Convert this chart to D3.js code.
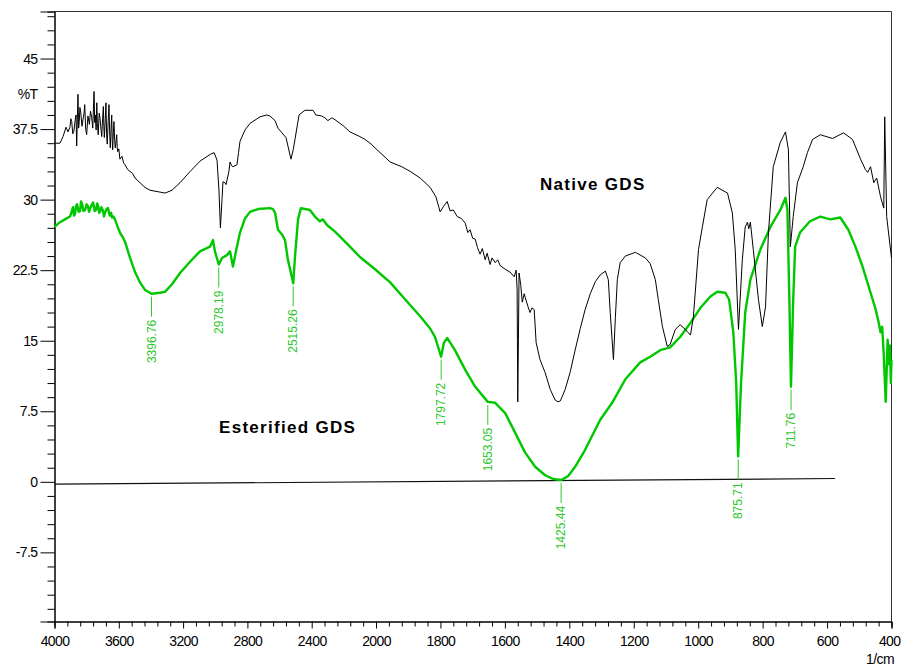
<!DOCTYPE html>
<html><head><meta charset="utf-8">
<script src="https://cdn.jsdelivr.net/npm/d3@7"></script>
<style>
html,body{margin:0;padding:0;background:#fff;}
svg{display:block;font-family:"Liberation Sans",Arial,Helvetica,sans-serif;}
</style></head><body>
<svg id="c" width="901" height="666"></svg>
<script>
// ---- data ----
const nativeWn = [4000,3966,3947,3928,3916,3904,3898,3893,3886,3879,3872,3866,3862,3858,3854,3850,3846,3842,3837,3829,3821,3816,3812,3806,3800,3792,3783,3776,3769,3762,3754,3750,3746,3741,3737,3733,3728,3722,3717,3711,3706,3701,3696,3693,3690,3685,3680,3676,3672,3666,3661,3657,3653,3648,3644,3641,3638,3634,3630,3626,3622,3617,3613,3610,3607,3600,3593,3580,3570,3561,3545,3530,3515,3499,3468,3437,3406,3375,3344,3312,3269,3219,3156,3094,3032,3007,2989,2977,2968,2958,2952,2940,2933,2915,2908,2898,2890,2865,2855,2846,2815,2784,2722,2680,2660,2628,2610,2585,2560,2545,2529,2515,2504,2479,2442,2392,2374,2340,2318,2299,2275,2255,2200,2162,2100,2068,2030,2006,1956,1920,1894,1863,1832,1814,1801,1790,1779,1770,1760,1748,1735,1723,1715,1708,1700,1692,1685,1677,1670,1661,1655,1646,1640,1630,1622,1615,1599,1584,1571,1565,1562,1560,1558,1556,1551,1546,1540,1537,1528,1522,1516,1509,1503,1491,1475,1459,1444,1435,1428,1413,1397,1382,1366,1351,1335,1319,1304,1288,1279,1273,1263,1257,1251,1242,1226,1195,1164,1149,1133,1124,1111,1096,1087,1071,1056,1040,1024,1015,999,987,972,941,909,894,885,875,863,854,847,843,838,829,813,801,791,782,767,745,729,720,714,705,692,674,661,645,621,583,549,521,496,481,474,465,455,446,434,424,421,415,400];
const nativeT = [36.0,36.0,36.7,37.7,37.2,37.7,38.6,38.3,37.0,37.3,38.4,39.0,35.7,38.5,41.2,37.6,38.3,39.8,39.3,37.8,38.7,39.2,40.1,37.5,36.9,38.9,38.0,39.4,38.8,37.6,41.5,38.2,39.0,37.4,40.3,38.1,36.9,39.2,38.7,37.5,36.7,38.6,39.9,37.8,36.6,38.2,40.3,37.0,35.9,38.4,40.1,37.2,35.5,37.6,39.0,36.3,35.3,37.1,38.3,36.4,35.5,36.2,36.9,35.6,35.1,35.4,34.3,34.6,33.9,33.7,33.2,33.0,32.8,32.3,31.8,31.3,31.0,30.9,30.8,30.7,31.0,31.8,33.0,34.1,34.8,35.0,34.2,31.0,27.0,30.0,31.9,31.8,31.6,33.0,34.0,33.6,33.5,33.7,35.0,36.2,37.4,38.1,38.8,39.0,38.9,38.4,37.6,37.1,36.6,35.5,34.3,35.3,36.4,39.0,39.5,39.5,39.0,38.9,38.7,38.4,38.7,38.5,37.8,37.2,36.7,36.4,35.9,35.5,34.0,33.5,33.0,32.3,31.3,30.3,28.7,29.3,29.8,28.8,28.9,28.2,28.0,27.5,26.5,26.8,25.9,25.8,24.9,24.2,24.8,23.6,24.3,23.1,23.8,23.3,23.6,23.0,22.6,22.3,21.8,22.5,20.5,8.5,15.0,22.2,21.0,19.1,20.0,19.6,18.6,18.0,18.5,18.3,14.8,13.0,11.6,9.8,8.7,8.5,8.6,9.8,11.7,14.0,16.3,18.3,20.0,21.3,22.0,22.4,21.5,18.0,13.0,17.5,21.5,23.3,24.0,24.4,23.8,23.2,21.5,19.4,16.5,14.4,14.6,16.2,16.7,16.2,15.6,17.5,24.7,27.1,30.0,31.3,30.7,28.6,24.7,16.2,23.6,27.1,27.6,26.9,27.6,24.7,19.4,16.5,18.6,26.5,33.5,36.1,37.2,35.3,25.0,28.2,31.8,33.5,35.0,36.4,36.9,36.5,37.1,36.4,34.3,33.2,32.9,33.5,31.8,32.3,30.3,29.1,38.8,28.2,23.8];

const esterWn = [4000,3966,3935,3904,3895,3885,3878,3872,3866,3860,3850,3841,3835,3829,3820,3810,3800,3792,3785,3779,3770,3760,3750,3742,3735,3729,3722,3717,3708,3698,3692,3686,3676,3667,3660,3655,3648,3642,3633,3624,3615,3605,3590,3575,3561,3530,3499,3468,3437,3406,3397,3344,3313,3269,3219,3157,3095,3033,3014,3002,2978,2958,2927,2908,2890,2871,2846,2815,2784,2734,2660,2641,2628,2610,2585,2566,2548,2515,2504,2485,2467,2411,2380,2349,2330,2305,2255,2162,2100,2006,1956,1910,1863,1832,1817,1798,1789,1779,1755,1723,1692,1653,1630,1599,1568,1537,1506,1475,1450,1425,1404,1382,1351,1304,1267,1226,1180,1149,1118,1087,1056,1024,993,962,941,916,904,891,882,876,867,854,838,807,776,745,729,723,717,712,705,699,684,653,621,590,559,534,512,490,465,449,440,434,429,424,418,412,408,405,402,400];
const esterT = [27.1,27.6,27.9,28.2,28.6,29.2,28.3,28.5,29.3,29.5,28.7,28.8,29.8,29.6,28.8,28.9,29.5,29.3,28.7,29.0,29.4,29.7,28.8,28.9,29.6,29.4,28.6,28.7,29.2,28.8,28.2,28.6,29.0,29.1,28.5,28.3,28.6,28.1,28.2,27.9,27.5,27.0,26.4,26.0,25.5,23.8,22.3,21.2,20.4,20.1,20.0,20.1,20.2,21.0,22.2,23.4,24.5,25.0,25.7,24.5,23.1,23.8,24.1,24.5,22.9,24.5,26.5,28.0,28.7,29.0,29.1,29.0,28.6,26.8,26.3,25.7,23.6,21.1,23.9,27.9,29.1,28.9,28.2,27.7,27.9,27.3,26.6,25.0,23.9,22.6,21.2,19.4,17.6,16.3,15.4,13.3,14.8,15.3,14.0,11.9,10.1,8.5,8.4,7.3,5.2,3.1,1.6,0.7,0.3,0.2,0.6,1.6,3.4,6.6,8.4,10.9,12.7,13.3,14.0,14.3,15.4,16.9,18.5,19.7,20.2,20.1,19.4,15.9,10.5,2.7,10.5,18.0,21.5,24.7,27.1,28.9,30.2,28.9,19.4,10.1,19.4,25.0,26.5,27.7,28.2,27.9,28.1,26.8,25.0,22.9,20.1,18.3,17.0,15.9,16.5,13.5,8.5,15.1,12.5,14.5,10.5,13.0,10.1];

const baseWn = [4000, 575];
const baseT = [-0.25, 0.35];

const peakWn = [3396.76, 2978.19, 2515.26, 1797.72, 1653.05, 1425.44, 875.71, 711.76];
const peakT  = [20.0, 23.1, 21.1, 13.3, 8.5, 0.2, 2.7, 10.1];

const xMajor = [4000,3600,3200,2800,2400,2000,1800,1600,1400,1200,1000,800,600,400];
const yMajor = [45,37.5,30,22.5,15,7.5,0,-7.5];

// ---- layout ----
const L = 54.5, R = 891.5, T = 11.5, B = 621.5;
const svg = d3.select("#c");
const x = d3.scaleLinear().domain([4000, 2000, 400]).range([L, 376, R]);
const y = d3.scaleLinear().domain([-14.85, 50]).range([B, T]);

const GREEN = "#00c800", LGREEN = "#2ec82e";

// frame (top/right)
svg.append("path").attr("d", `M${L},${T}H${R}V${B}`).attr("fill","none").attr("stroke","#333").attr("stroke-width",1);

// x ticks
const xMinor = d3.range(4000, 2000, -80).concat(d3.range(2000, 399, -40)).filter(v => !xMajor.includes(v));
const gx = svg.append("g").attr("transform", `translate(0,${B})`);
gx.call(d3.axisBottom(x).tickValues(xMinor).tickSize(5).tickFormat(""));
const gx2 = svg.append("g").attr("transform", `translate(0,${B})`);
gx2.call(d3.axisBottom(x).tickValues(xMajor).tickSize(7).tickPadding(8).tickFormat(d3.format("d")));
[gx, gx2].forEach(g => { g.select(".domain").attr("stroke","#000"); g.selectAll("line").attr("stroke","#000"); });
gx2.selectAll("text").attr("font-size", 14).attr("fill","#000").attr("letter-spacing","-0.6px").attr("font-family","'Liberation Sans',Arial,sans-serif");
// keep the last label inside the picture
gx2.selectAll(".tick").filter(d => d === 400).select("text").attr("text-anchor","end").attr("x", 900 - R);

// y ticks
const yMinor = d3.range(-13.5, 50, 1.5).map(v => +v.toFixed(2)).filter(v => !yMajor.some(m => Math.abs(m - v) < 1e-6));
const gy = svg.append("g").attr("transform", `translate(${L},0)`);
gy.call(d3.axisLeft(y).tickValues(yMinor).tickSize(7).tickFormat(""));
const gy2 = svg.append("g").attr("transform", `translate(${L},0)`);
gy2.call(d3.axisLeft(y).tickValues(yMajor).tickSize(14).tickPadding(3).tickFormat(d => String(d)));
[gy, gy2].forEach(g => { g.select(".domain").attr("stroke","#000"); g.selectAll("line").attr("stroke","#000"); });
gy2.selectAll("text").attr("font-size", 14).attr("fill","#000").attr("letter-spacing","-0.6px").attr("font-family","'Liberation Sans',Arial,sans-serif");

// axis unit labels
svg.append("text").attr("x", L - 17).attr("y", y(41.25)).attr("dy","0.35em").attr("text-anchor","end")
  .attr("font-size",14).attr("letter-spacing","-0.6px").text("%T");
svg.append("text").attr("x", 894).attr("y", 664).attr("text-anchor","end")
  .attr("font-size",14).attr("letter-spacing","-0.6px").text("1/cm");

// baseline
const line = d3.line().x(d => x(d[0])).y(d => y(d[1]));
svg.append("path").datum(baseWn.map((w,i)=>[w, baseT[i]])).attr("d", line)
  .attr("fill","none").attr("stroke","#111").attr("stroke-width",1.2);

// spectra
svg.append("path").datum(esterWn.map((w,i)=>[w, esterT[i]])).attr("d", line)
  .attr("fill","none").attr("stroke",GREEN).attr("stroke-width",2.4).attr("stroke-linejoin","round");
svg.append("path").datum(nativeWn.map((w,i)=>[w, nativeT[i]])).attr("d", line)
  .attr("fill","none").attr("stroke","#000").attr("stroke-width",1).attr("stroke-linejoin","round");

// peak labels
peakWn.forEach((w,i) => {
  const px = x(w), py = y(peakT[i]);
  svg.append("line").attr("x1",px).attr("x2",px).attr("y1",py+3).attr("y2",py+23)
    .attr("stroke",LGREEN).attr("stroke-width",1);
  svg.append("text").attr("transform",`translate(${px},${py+26}) rotate(-90)`)
    .attr("text-anchor","end").attr("dy","0.35em").attr("font-size",12).attr("fill",LGREEN)
    .text(w.toFixed(2));
});

// series labels
svg.append("text").attr("x", 540).attr("y", 190).attr("font-size",17).attr("font-weight","bold")
  .attr("letter-spacing","1.3px").text("Native GDS");
svg.append("text").attr("x", 219).attr("y", 433).attr("font-size",17).attr("font-weight","bold")
  .attr("letter-spacing","1.3px").text("Esterified GDS");
</script></body></html>
